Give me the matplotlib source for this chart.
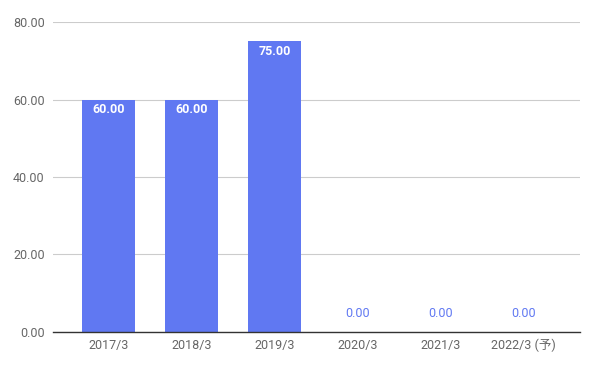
import matplotlib
matplotlib.use("Agg")
import matplotlib.pyplot as plt
import numpy as np

categories = ["2017/3", "2018/3", "2019/3", "2020/3", "2021/3", "2022/3 (予)"]
values = [60.0, 60.0, 75.0, 0.0, 0.0, 0.0]
yticks = [0, 20, 40, 60, 80]

plt.rcParams['font.family'] = ['Roboto', 'Noto Sans CJK JP', 'DejaVu Sans']

fig = plt.figure(figsize=(5.96, 3.67), dpi=100)
ax = fig.add_axes([0.0889, 0.0954, 0.973 - 0.0889, 0.940 - 0.0954])

bar_color = "#6078F2"
x = np.arange(len(categories))
ax.bar(x, values, width=0.64, color=bar_color, zorder=3)

ax.set_xlim(-0.67, 5.68)
ax.set_ylim(0, 80)
ax.set_yticks(yticks)
ax.set_yticklabels([f"{v:.2f}" for v in yticks])
ax.set_xticks(x)
ax.set_xticklabels(categories)
ax.tick_params(axis='both', length=0, colors="#666666", labelsize=9)
ax.tick_params(axis='x', pad=5)
ax.tick_params(axis='y', pad=6)

ax.grid(axis='y', color="#cccccc", linewidth=0.8, zorder=0)
for s in ['top', 'right', 'left']:
    ax.spines[s].set_visible(False)
ax.spines['bottom'].set_color("#333333")
ax.spines['bottom'].set_linewidth(1.0)
ax.spines['bottom'].set_zorder(4)

for xi, v in zip(x, values):
    if v > 5:
        ax.annotate(f"{v:.2f}", (xi, v), xytext=(0, -7.5), textcoords="offset points",
                    ha='center', va='center', color='white', fontsize=9,
                    fontweight='bold', zorder=5)
    else:
        ax.annotate(f"{v:.2f}", (xi, v), xytext=(0, 13), textcoords="offset points",
                    ha='center', va='center', color=bar_color, fontsize=9, zorder=5)

fig.savefig("out.png", dpi=100)
